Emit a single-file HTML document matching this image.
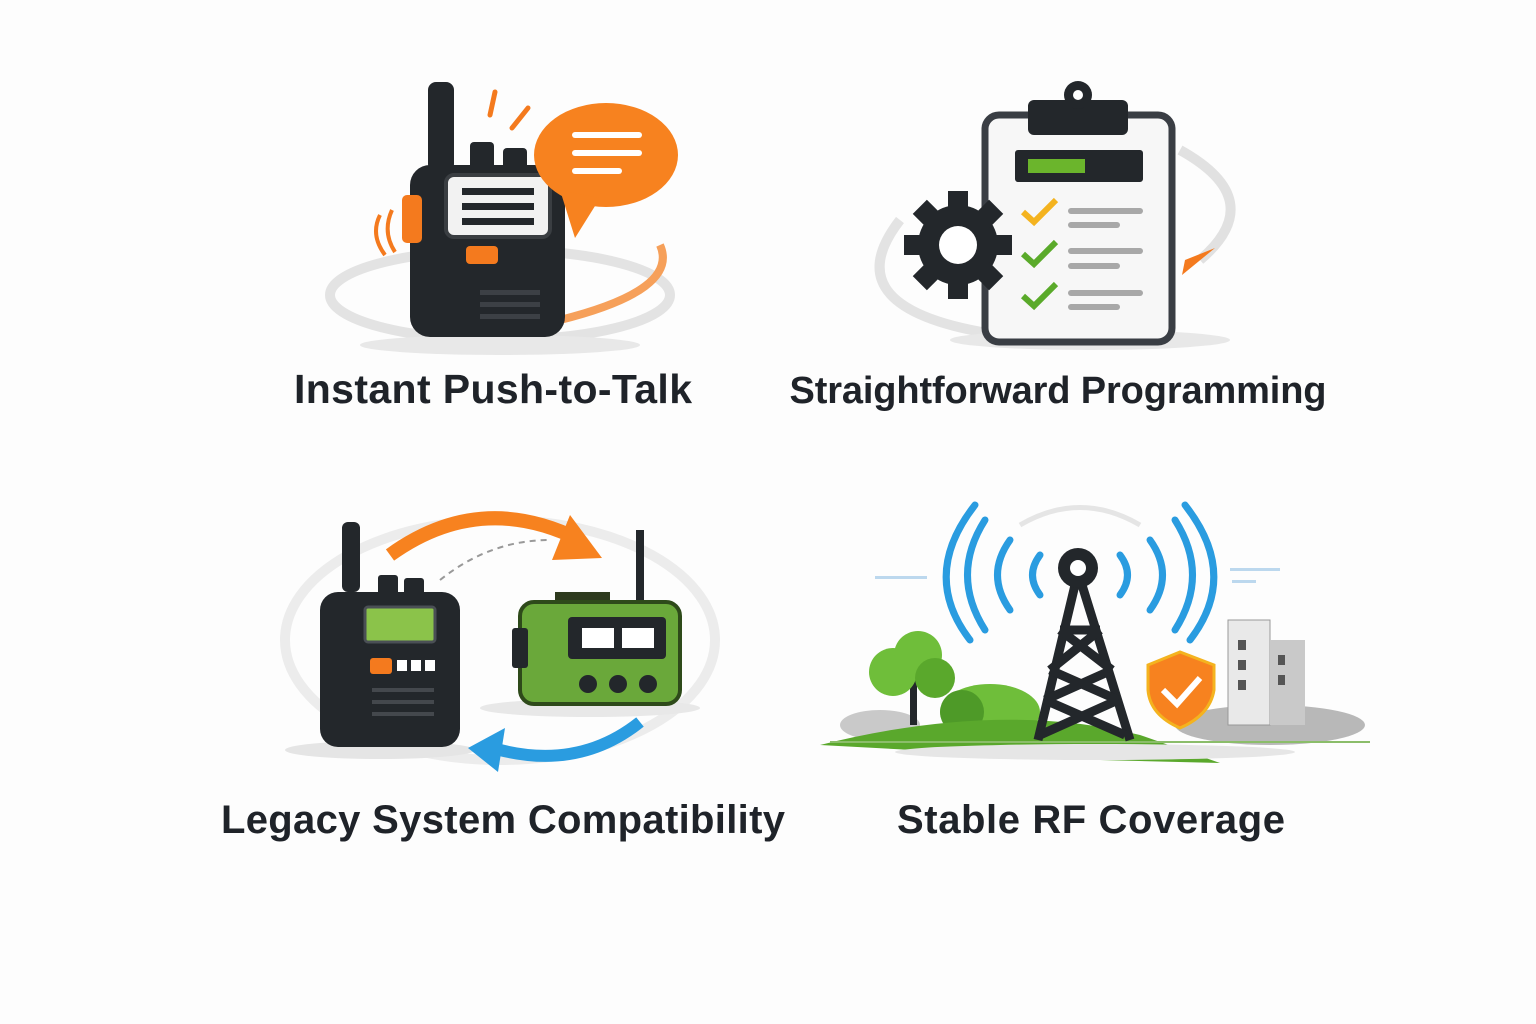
<!DOCTYPE html>
<html><head><meta charset="utf-8"><style>
html,body{margin:0;padding:0;background:#fdfdfd;}
svg{display:block}
text{font-family:"Liberation Sans","DejaVu Sans",sans-serif;font-weight:bold;fill:#1f2329;}
</style></head><body>
<svg width="1536" height="1024" viewBox="0 0 1536 1024" xmlns="http://www.w3.org/2000/svg">
<rect width="1536" height="1024" fill="#fdfdfd"/>
<!-- Panel 1: PTT -->
<ellipse cx="500" cy="295" rx="170" ry="45" fill="none" stroke="#e3e3e3" stroke-width="10"/>
<path d="M560 320 Q680 290 660 245" fill="none" stroke="#f6a05a" stroke-width="8"/>
<ellipse cx="500" cy="345" rx="140" ry="10" fill="#e8e8e8"/>
<rect x="428" y="82" width="26" height="90" rx="8" fill="#23272b"/>
<rect x="470" y="142" width="24" height="34" rx="4" fill="#23272b"/>
<rect x="503" y="148" width="24" height="28" rx="4" fill="#23272b"/>
<rect x="410" y="165" width="155" height="172" rx="20" fill="#23272b"/>
<rect x="402" y="195" width="20" height="48" rx="5" fill="#f47a1e"/>
<rect x="446" y="175" width="104" height="62" rx="8" fill="#f2f2f2" stroke="#3a3e42" stroke-width="4"/>
<rect x="462" y="188" width="72" height="7" fill="#23272b"/><rect x="462" y="203" width="72" height="7" fill="#23272b"/><rect x="462" y="218" width="72" height="7" fill="#23272b"/>
<rect x="466" y="246" width="32" height="18" rx="4" fill="#f47a1e"/>
<rect x="480" y="290" width="60" height="5" fill="#3c4045"/><rect x="480" y="302" width="60" height="5" fill="#3c4045"/><rect x="480" y="314" width="60" height="5" fill="#3c4045"/>
<path d="M380 215 Q370 235 385 255" fill="none" stroke="#f47a1e" stroke-width="4"/>
<path d="M392 210 Q382 232 395 252" fill="none" stroke="#f47a1e" stroke-width="4"/>
<path d="M495 92 L490 115 M528 108 L512 128" stroke="#f47a1e" stroke-width="5" stroke-linecap="round"/>
<ellipse cx="606" cy="155" rx="72" ry="52" fill="#f7821f"/>
<path d="M560 190 L575 238 L600 198 Z" fill="#f7821f"/>
<rect x="572" y="132" width="70" height="6" rx="3" fill="#fff"/><rect x="572" y="150" width="70" height="6" rx="3" fill="#fff"/><rect x="572" y="168" width="50" height="6" rx="3" fill="#fff"/>
<text x="493" y="403" font-size="41" text-anchor="middle" textLength="398">Instant Push-to-Talk</text>
<!-- Panel 2: programming -->
<path d="M1180 150 Q1270 200 1200 260" fill="none" stroke="#e1e1e1" stroke-width="10"/>
<path d="M1185 260 L1215 248 L1182 275 Z" fill="#f47a1e"/>
<path d="M900 220 Q830 310 1000 335" fill="none" stroke="#e3e3e3" stroke-width="10"/>
<ellipse cx="1090" cy="340" rx="140" ry="10" fill="#e8e8e8"/>
<rect x="985" y="115" width="187" height="227" rx="14" fill="#f7f7f7" stroke="#3a3e44" stroke-width="7"/>
<rect x="1028" y="100" width="100" height="35" rx="6" fill="#23272b"/>
<circle cx="1078" cy="95" r="14" fill="#23272b"/><circle cx="1078" cy="95" r="5" fill="#fff"/>
<rect x="1015" y="150" width="128" height="32" rx="3" fill="#23272b"/>
<rect x="1028" y="159" width="57" height="14" fill="#6bb52c"/>
<path d="M1023 212 L1034 222 L1056 200" fill="none" stroke="#f4b31f" stroke-width="6"/>
<path d="M1023 254 L1034 264 L1056 242" fill="none" stroke="#5aaa2a" stroke-width="6"/>
<path d="M1023 296 L1034 306 L1056 284" fill="none" stroke="#5aaa2a" stroke-width="6"/>
<g fill="#a8a8a8"><rect x="1068" y="208" width="75" height="6" rx="3"/><rect x="1068" y="222" width="52" height="6" rx="3"/><rect x="1068" y="248" width="75" height="6" rx="3"/><rect x="1068" y="263" width="52" height="6" rx="3"/><rect x="1068" y="290" width="75" height="6" rx="3"/><rect x="1068" y="304" width="52" height="6" rx="3"/></g>
<g transform="translate(958,245)" fill="#23272b">
<circle r="40"/>
<g id="t"><rect x="-10" y="-54" width="20" height="20"/></g>
<use href="#t" transform="rotate(45)"/><use href="#t" transform="rotate(90)"/><use href="#t" transform="rotate(135)"/><use href="#t" transform="rotate(180)"/><use href="#t" transform="rotate(225)"/><use href="#t" transform="rotate(270)"/><use href="#t" transform="rotate(315)"/>
<circle r="19" fill="#fff"/></g>
<text x="1058" y="403" font-size="38" text-anchor="middle" textLength="537">Straightforward Programming</text>
<!-- Panel 3: legacy -->
<ellipse cx="500" cy="640" rx="215" ry="120" fill="none" stroke="#ececec" stroke-width="10"/>
<ellipse cx="380" cy="750" rx="95" ry="9" fill="#e5e5e5"/><ellipse cx="590" cy="708" rx="110" ry="9" fill="#e8e8e8"/>
<path d="M390 555 Q480 490 580 540" fill="none" stroke="#f7821f" stroke-width="14"/>
<path d="M570 515 L602 558 L552 560 Z" fill="#f7821f"/>
<path d="M440 580 Q490 540 550 540" fill="none" stroke="#999" stroke-width="2" stroke-dasharray="6 5"/>
<path d="M640 722 Q580 770 500 750" fill="none" stroke="#2a9ce0" stroke-width="12"/>
<path d="M505 728 L468 748 L498 772 Z" fill="#2a9ce0"/>
<rect x="342" y="522" width="18" height="70" rx="6" fill="#23272b"/>
<rect x="378" y="575" width="20" height="25" rx="3" fill="#23272b"/><rect x="404" y="578" width="20" height="22" rx="3" fill="#23272b"/>
<rect x="320" y="592" width="140" height="155" rx="18" fill="#23272b"/>
<rect x="365" y="607" width="70" height="35" rx="3" fill="#8bc34a" stroke="#4a4f55" stroke-width="3"/>
<rect x="370" y="658" width="22" height="16" rx="3" fill="#f47a1e"/>
<rect x="397" y="660" width="10" height="11" fill="#fff"/><rect x="411" y="660" width="10" height="11" fill="#fff"/><rect x="425" y="660" width="10" height="11" fill="#fff"/>
<rect x="372" y="688" width="62" height="4" fill="#44484d"/><rect x="372" y="700" width="62" height="4" fill="#44484d"/><rect x="372" y="712" width="62" height="4" fill="#44484d"/>
<rect x="636" y="530" width="8" height="75" fill="#23272b"/>
<rect x="555" y="592" width="55" height="15" fill="#2e3a1e"/>
<rect x="520" y="602" width="160" height="102" rx="14" fill="#6aa83a" stroke="#2e4a1a" stroke-width="4"/>
<rect x="512" y="628" width="16" height="40" rx="3" fill="#23272b"/>
<rect x="568" y="617" width="98" height="42" rx="4" fill="#23272b"/>
<rect x="582" y="628" width="32" height="20" fill="#fff"/><rect x="622" y="628" width="32" height="20" fill="#fff"/>
<circle cx="588" cy="684" r="9" fill="#23272b"/><circle cx="618" cy="684" r="9" fill="#23272b"/><circle cx="648" cy="684" r="9" fill="#23272b"/>
<text x="503" y="833" font-size="40" text-anchor="middle" textLength="564">Legacy System Compatibility</text>
<!-- Panel 4: RF -->
<rect x="875" y="576" width="52" height="3" fill="#bcd8ee"/><rect x="1230" y="568" width="50" height="3" fill="#bcd8ee"/><rect x="1232" y="580" width="24" height="3" fill="#bcd8ee"/>
<g fill="none" stroke="#2a9ce0" stroke-width="7" stroke-linecap="round">
<path d="M1040 555 Q1025 575 1040 595"/><path d="M1010 540 Q985 575 1010 610"/><path d="M985 520 Q950 575 985 630"/><path d="M975 505 Q920 575 970 640"/>
<path d="M1120 555 Q1135 575 1120 595"/><path d="M1150 540 Q1175 575 1150 610"/><path d="M1175 520 Q1210 575 1175 630"/><path d="M1185 505 Q1240 575 1190 640"/></g>
<path d="M1020 525 Q1080 490 1140 525" fill="none" stroke="#e5e5e5" stroke-width="5"/>
<ellipse cx="1270" cy="725" rx="95" ry="20" fill="#b8b8b8"/>
<rect x="1228" y="620" width="42" height="105" fill="#e9e9e9" stroke="#999" stroke-width="1"/>
<rect x="1270" y="640" width="35" height="85" fill="#c9c9c9"/>
<g fill="#555"><rect x="1238" y="640" width="8" height="10"/><rect x="1238" y="660" width="8" height="10"/><rect x="1238" y="680" width="8" height="10"/><rect x="1278" y="655" width="7" height="10"/><rect x="1278" y="675" width="7" height="10"/></g>
<path d="M1148 665 L1180 652 L1214 665 L1214 690 Q1210 715 1180 728 Q1150 715 1148 690 Z" fill="#f7821f" stroke="#f4b31f" stroke-width="3"/>
<path d="M1163 690 L1177 704 L1200 678" fill="none" stroke="#fff" stroke-width="6"/>
<ellipse cx="880" cy="725" rx="40" ry="15" fill="#c9c9c9"/>
<rect x="910" y="680" width="7" height="45" fill="#23272b"/>
<circle cx="893" cy="672" r="24" fill="#6fbe3a"/><circle cx="918" cy="655" r="24" fill="#6fbe3a"/><circle cx="935" cy="678" r="20" fill="#5aa82c"/>
<ellipse cx="990" cy="712" rx="50" ry="28" fill="#6fbe3a"/><circle cx="962" cy="712" r="22" fill="#4e9a28"/>
<path d="M820 745 Q1000 700 1140 735 L1220 763 L1100 760 Z" fill="#5aa82c"/>
<path d="M830 742 L1370 742" stroke="#8bbd6a" stroke-width="2"/>
<ellipse cx="1095" cy="752" rx="200" ry="8" fill="#e6e6e6"/>
<g stroke="#23272b" stroke-width="9" fill="none"><path d="M1075 585 L1038 740 M1082 585 L1130 740"/><path d="M1060 630 L1100 630 M1060 630 L1112 670 M1100 630 L1050 670 M1050 670 L1118 700 M1112 670 L1045 700 M1045 700 L1125 735 M1118 700 L1040 735"/></g>
<circle cx="1078" cy="568" r="20" fill="#23272b"/><circle cx="1078" cy="568" r="8" fill="#fff"/>
<text x="1091" y="833" font-size="40" text-anchor="middle" textLength="388">Stable RF Coverage</text>
</svg>
</body></html>
